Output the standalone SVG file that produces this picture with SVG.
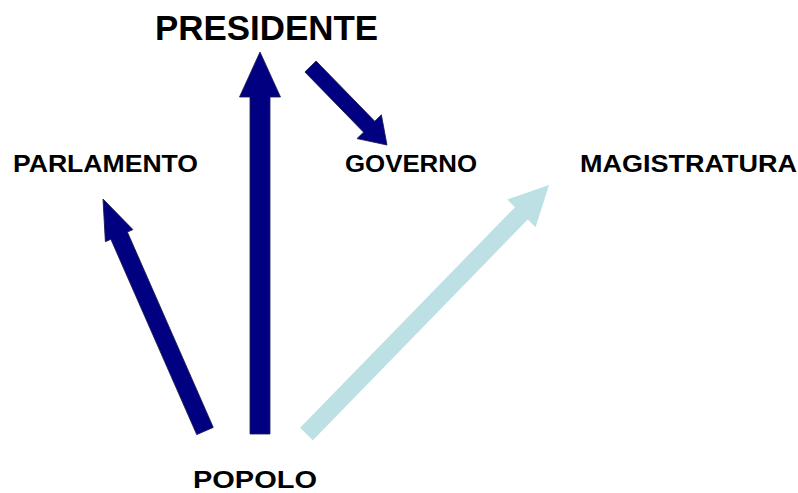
<svg xmlns="http://www.w3.org/2000/svg" width="798" height="493" viewBox="0 0 798 493">
<style>
text{font-family:"Liberation Sans",Arial,sans-serif;font-weight:bold;fill:#000}
.lbl{font-size:24px}
.big{font-size:35px}
.dark{fill:#000080;stroke:#1a1a50;stroke-width:0.8}
.light{fill:#BCE0E4}
</style>
<rect width="798" height="493" fill="#fff"/>
<g id="connectors">
<polygon class="dark" transform="translate(260,434) rotate(-90)" points="0,-10 337,-10 337,-20.5 382,0 337,20.5 337,10 0,10"/>
<polygon class="dark" transform="translate(205,431) rotate(-113.73)" points="0,-9 213.4,-9 213.4,-15 253.4,0 213.4,15 213.4,9 0,9"/>
<polygon class="dark" transform="translate(310.5,66.5) rotate(45.74)" points="0,-7.8 84.1,-7.8 84.1,-17 109.6,0 84.1,17 84.1,7.8 0,7.8"/>
<polygon class="light" transform="translate(306.5,434) rotate(-45.76)" points="0,-8.9 308,-8.9 308,-19.8 347.6,0 308,19.8 308,8.9 0,8.9"/>
</g>
<g id="presidente"><text class="big" x="155" y="40" textLength="223" lengthAdjust="spacingAndGlyphs">PRESIDENTE</text></g>
<g id="parlamento"><text class="lbl" x="13" y="172" textLength="185" lengthAdjust="spacingAndGlyphs">PARLAMENTO</text></g>
<g id="governo"><text class="lbl" x="345" y="172" textLength="132" lengthAdjust="spacingAndGlyphs">GOVERNO</text></g>
<g id="magistratura"><text class="lbl" x="580" y="172" textLength="217" lengthAdjust="spacingAndGlyphs">MAGISTRATURA</text></g>
<g id="popolo"><text class="lbl" x="193" y="488" textLength="124" lengthAdjust="spacingAndGlyphs">POPOLO</text></g>
</svg>
